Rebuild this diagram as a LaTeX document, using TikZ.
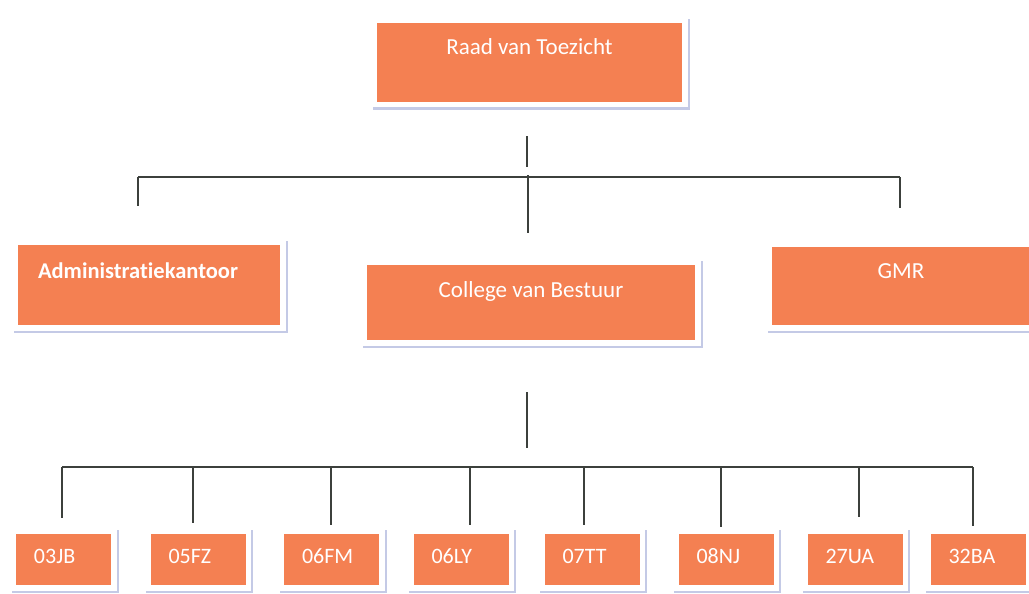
\documentclass[tikz,border=0pt]{standalone}
\usepackage{fontspec}
\setmainfont{Carlito}[Ligatures=CommonOff]
\usetikzlibrary{positioning}

\definecolor{boxorange}{RGB}{244,128,82}
\definecolor{framegrey}{RGB}{196,202,230}
\definecolor{linegrey}{RGB}{60,64,60}

\begin{document}
\begin{tikzpicture}[x=1pt,y=-1pt,
		orgbox/.style={fill=boxorange,text=white,inner ysep=0pt,
			font=\fontsize{23}{27}\selectfont,
			preaction={draw=framegrey,line width=12pt,transform canvas={shift={(1.5pt,-2pt)}}},
			preaction={draw=white,line width=11pt}},
		unitbox/.style={orgbox,font=\fontsize{22}{26}\selectfont,text width=59pt,inner xsep=18pt,align=left,
			text height=15pt,text depth=8pt,minimum height=51pt},
		link/.style={draw=linegrey,line width=2.6pt}]
	\useasboundingbox (0,0) rectangle (1029,594);
	% top level
	\node[orgbox,minimum width=305pt,text height=32pt,text depth=47pt] (raad) at (529.5,62.5) {Raad van Toezicht};
	\node[orgbox,font=\fontsize{22.5}{26}\selectfont\bfseries,text width=222pt,inner xsep=20pt,align=left,
		text height=33pt,text depth=47pt] (admin) at (149,285) {Administratiekantoor};
	\node[orgbox,minimum width=328pt,text height=32pt,text depth=43pt] (cvb) at (531,302.5) {College van Bestuur};
	\node[orgbox,minimum width=258pt,text height=31pt,text depth=47pt] (gmr) at (901,286) {GMR};
	% schools
	\foreach \name/\cx/\dx/\dy in {03JB/63.5/62/518, 05FZ/198/193/523, 06FM/331.5/331/525,
		06LY/461/470/525, 07TT/592/584/525, 08NJ/726/721/527, 27UA/855/859/517, 32BA/978/973/526}{
		\node[unitbox] (u\name) at (\cx,559.5) {\name};
		\coordinate (d\name) at (\dx,\dy);
	}
	% connectors, upper part
	\coordinate (raadtail) at (527,136);
	\coordinate (bustop) at (527,177);
	\coordinate (dadmin) at (138,206);
	\coordinate (dcvb) at (528,233);
	\coordinate (dgmr) at (900,208);
	\draw[link] (raadtail) -- ++(0,31);
	\draw[link] (dadmin |- bustop) -- (dgmr |- bustop);
	\draw[link] (dadmin |- bustop) -- (dadmin);
	\draw[link] (dgmr |- bustop) -- (dgmr);
	\draw[link] ([yshift=2pt]dcvb |- bustop) -- (dcvb);
	% connectors, lower part
	\coordinate (cvbtail) at (527,392);
	\coordinate (busbot) at (527,467);
	\draw[link] (cvbtail) -- ++(0,56);
	\draw[link] (d03JB |- busbot) -- (d32BA |- busbot);
	\foreach \name in {03JB,05FZ,06FM,06LY,07TT,08NJ,27UA,32BA}
		\draw[link] (d\name |- busbot) -- (d\name);
\end{tikzpicture}
\end{document}
